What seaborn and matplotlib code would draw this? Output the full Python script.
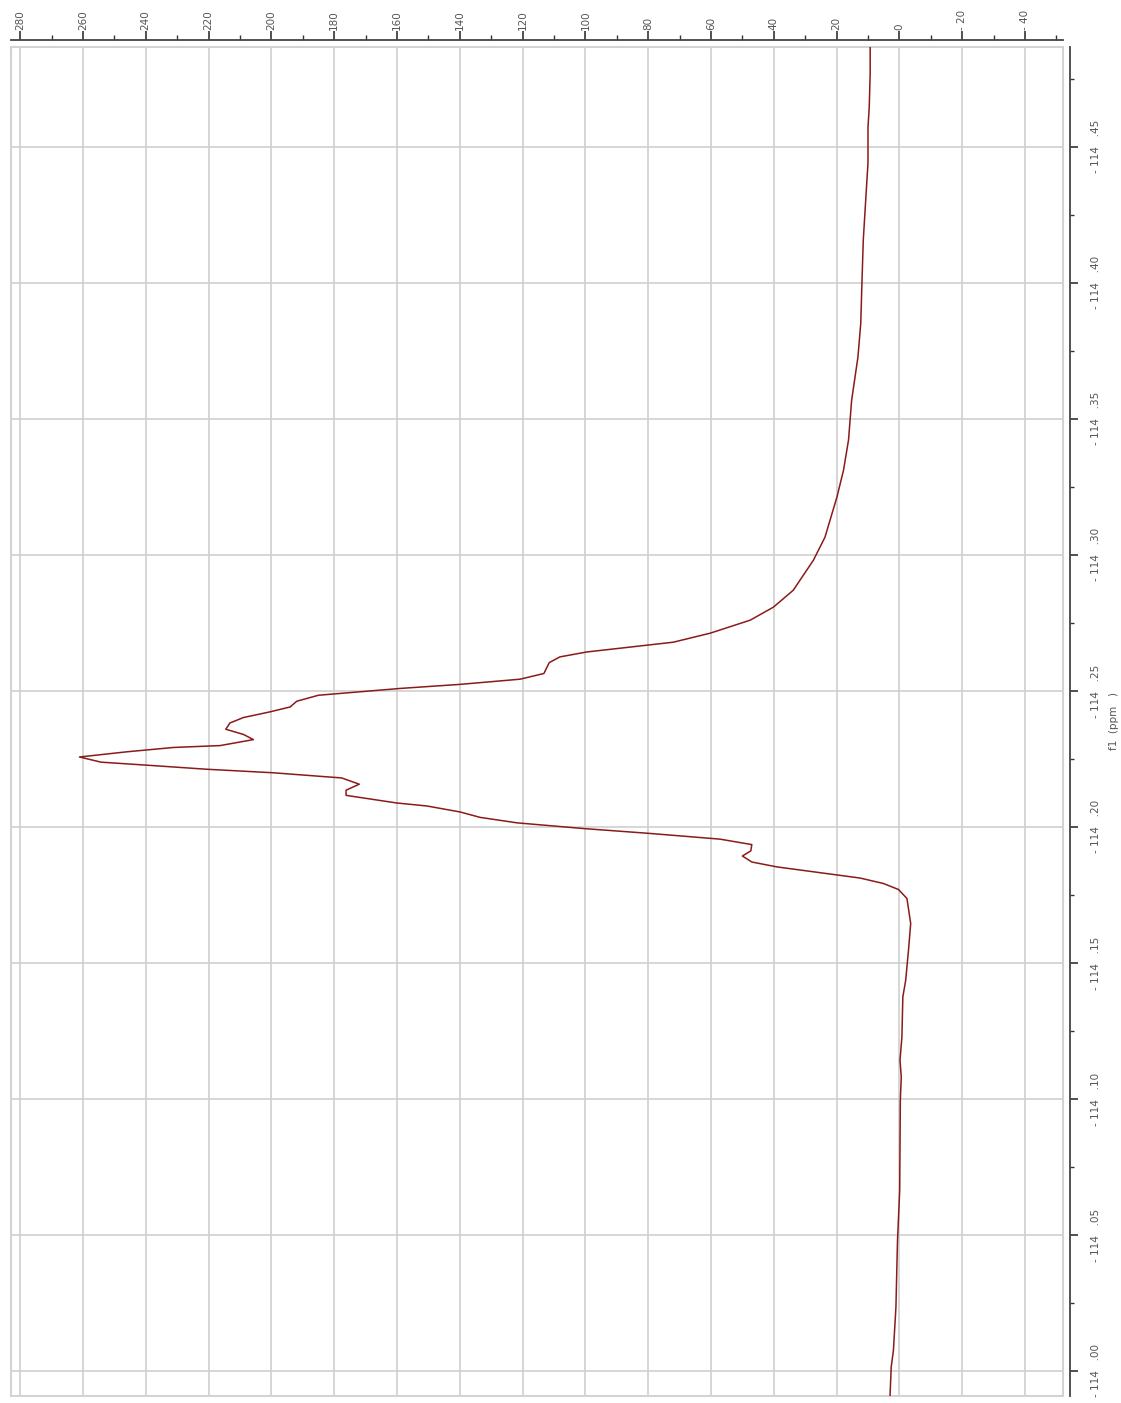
import numpy as np
import matplotlib
matplotlib.use("Agg")
import matplotlib.pyplot as plt
from matplotlib.patches import Rectangle
from matplotlib.ticker import MultipleLocator, FixedLocator, FuncFormatter
import seaborn as sns

# spectrum: chemical shift (ppm) and intensity
ppm = [-114.4867, -114.4771, -114.4646, -114.4572, -114.4440, -114.4366, -114.4157,
       -114.4010, -114.3852, -114.3727, -114.3569, -114.3422, -114.3311, -114.3212,
       -114.3065, -114.2980, -114.2870, -114.2808, -114.2760, -114.2712, -114.2679,
       -114.2643, -114.2625, -114.2604, -114.2564, -114.2543, -114.2524, -114.2509,
       -114.2484, -114.2462, -114.2441, -114.2423, -114.2402, -114.2382, -114.2359,
       -114.2340, -114.2321, -114.2299, -114.2292, -114.2276, -114.2257, -114.2238,
       -114.2227, -114.2212, -114.2199, -114.2180, -114.2157, -114.2135, -114.2116,
       -114.2088, -114.2077, -114.2055, -114.2035, -114.2015, -114.1994, -114.1976,
       -114.1955, -114.1935, -114.1912, -114.1893, -114.1871, -114.1853, -114.1812,
       -114.1792, -114.1770, -114.1737, -114.1645, -114.1547, -114.1436, -114.1375,
       -114.1228, -114.1142, -114.1081, -114.0995, -114.0664, -114.0480, -114.0235,
       -114.0076, -114.0015, -113.9904]
intensity = [9.3, 9.3, 9.6, 10.0, 10.0, 10.4, 11.5,
             11.9, 12.3, 13.2, 15.2, 16.2, 17.8, 19.9,
             23.7, 27.4, 33.8, 40.1, 47.5, 60.3, 72.0,
             99.6, 108.1, 111.5, 113.2, 120.8, 139.9, 159.0,
             185.0, 191.9, 194.0, 200.4, 208.9, 213.2, 214.5,
             208.9, 205.7, 216.3, 231.2, 246.1, 261.1, 254.2,
             239.7, 220.6, 199.4, 177.6, 172.0, 176.2, 176.2,
             160.1, 150.5, 139.9, 133.5, 121.8, 100.6, 79.4,
             57.1, 47.0, 47.3, 50.0, 47.0, 39.0, 12.5,
             5.1, 0.3, -2.4, -3.6, -2.9, -2.0, -1.1,
             -0.8, -0.2, -0.6, -0.3, -0.1, 0.6, 1.1,
             1.9, 2.6, 3.0]

int_ticks = list(range(280, -41, -20))
ppm_ticks = [-114.45, -114.40, -114.35, -114.30, -114.25, -114.20,
             -114.15, -114.10, -114.05, -114.00]

sns.set_style("white")
plt.rcParams['font.family'] = ['DejaVu Sans']

fig = plt.figure(figsize=(11.21, 14.03), dpi=100)
ax = fig.add_axes([11 / 1121, 7 / 1403, 1052 / 1121, 1349 / 1403])

sns.lineplot(x=intensity, y=ppm, sort=False, estimator=None, color='#8b1a1a',
             linewidth=1.1, ax=ax)

ax.set_xlim(282.9, -52.1)
ax.set_ylim(-113.9908, -114.4867)


def int_label(v, pos):
    v = int(round(v))
    return f"- {abs(v)}" if v < 0 else str(v)


def ppm_label(v, pos):
    return f"- 114   .{int(round(abs(v) * 100)) % 100:02d}"


# axes on top and right, like the rotated spectrum
ax.xaxis.tick_top()
ax.yaxis.tick_right()
ax.yaxis.set_label_position('right')
ax.xaxis.set_major_locator(FixedLocator(int_ticks))
ax.xaxis.set_minor_locator(MultipleLocator(10))
ax.yaxis.set_major_locator(FixedLocator(ppm_ticks))
ax.yaxis.set_minor_locator(MultipleLocator(0.025))
ax.xaxis.set_major_formatter(FuncFormatter(int_label))
ax.yaxis.set_major_formatter(FuncFormatter(ppm_label))

ax.tick_params(axis='x', which='major', top=True, bottom=False, length=6.5, width=1.2,
               color='#333333', pad=1, labelrotation=90, labelsize=7.5,
               labelcolor='#555555')
ax.tick_params(axis='x', which='minor', top=True, bottom=False, length=3.5, width=1.0,
               color='#333333')
ax.tick_params(axis='y', which='major', right=True, left=False, length=6, width=1.2,
               color='#333333', pad=9, labelrotation=90, labelsize=7.5,
               labelcolor='#555555')
ax.tick_params(axis='y', which='minor', right=True, left=False, length=3, width=1.0,
               color='#333333')

ax.set_xlabel('')
ax.set_ylabel('f1  (ppm   )', rotation=90, fontsize=7.5, color='#555555', labelpad=6)

ax.grid(True, which='major', color='#cfcfcf', linewidth=1.2)

for side in ['left', 'bottom']:
    ax.spines[side].set_visible(False)
for side in ['top', 'right']:
    ax.spines[side].set_position(('outward', 5))
    ax.spines[side].set_color('#444444')
    ax.spines[side].set_linewidth(1.3)

# light frame around the plotting area
ax.add_patch(Rectangle((0, 0), 1, 1, transform=ax.transAxes, fill=False,
                       edgecolor='#d3d3d3', linewidth=1.5, clip_on=False))

# center the rotated labels on their ticks
for tick in ax.yaxis.get_major_ticks():
    tick.label2.set_rotation_mode('default')
    tick.label2.set_verticalalignment('center')
    tick.label2.set_horizontalalignment('left')
for tick in ax.xaxis.get_major_ticks():
    tick.label2.set_rotation_mode('default')
    tick.label2.set_verticalalignment('bottom')
    tick.label2.set_horizontalalignment('center')

fig.savefig('out.png', dpi=100)
